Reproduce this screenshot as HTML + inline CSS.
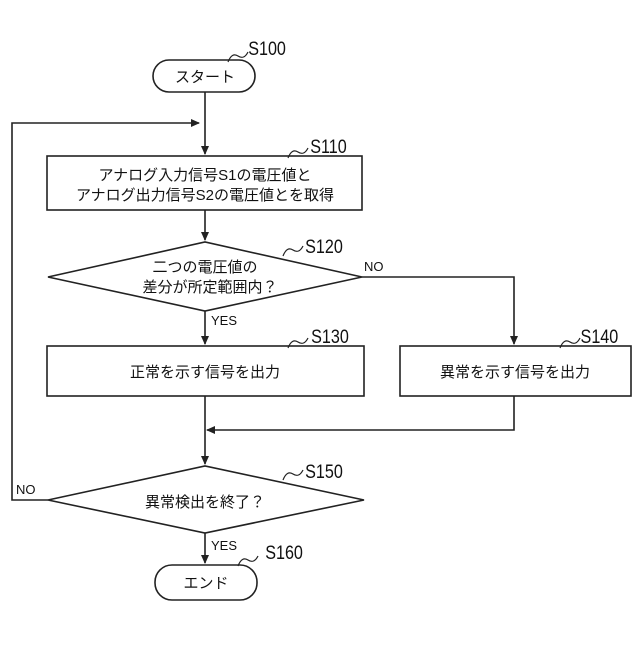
<!DOCTYPE html><html><head><meta charset="utf-8"><style>body{margin:0;background:#fff}svg text{font-family:"Liberation Sans","Noto Sans CJK JP",sans-serif;fill:#111}</style></head><body>
<svg width="640" height="640" viewBox="0 0 640 640" xmlns="http://www.w3.org/2000/svg">
<defs><marker id="a" markerWidth="10" markerHeight="10" refX="8" refY="4" orient="auto" markerUnits="userSpaceOnUse"><path d="M0,0 L9,4 L0,8 Z" fill="#222"/></marker></defs>
<g stroke="#222" stroke-width="1.6" fill="none">
<rect x="153" y="60" width="102" height="32" rx="16"/>
<rect x="47" y="156" width="315" height="54"/>
<polygon points="48,277 205,242 362,277 205,311"/>
<rect x="47" y="346" width="317" height="50"/>
<rect x="400" y="346" width="231" height="50"/>
<polygon points="48,500 205,466 364,500 205,533"/>
<rect x="155" y="565" width="102" height="35" rx="17"/>
<line x1="205" y1="92" x2="205" y2="154" marker-end="url(#a)"/>
<polyline points="48,500 12,500 12,123 199,123" marker-end="url(#a)"/>
<line x1="205" y1="210" x2="205" y2="240" marker-end="url(#a)"/>
<line x1="205" y1="311" x2="205" y2="344" marker-end="url(#a)"/>
<polyline points="362,277 514,277 514,344" marker-end="url(#a)"/>
<line x1="205" y1="396" x2="205" y2="464" marker-end="url(#a)"/>
<polyline points="514,396 514,430 207,430" marker-end="url(#a)"/>
<line x1="205" y1="533" x2="205" y2="563" marker-end="url(#a)"/>
<g stroke-width="1.2">
<path d="M228,62 q4,-10 10,-6 t10,-4"/>
<path d="M288,158 q4,-10 10,-6 t10,-4"/>
<path d="M283,256 q4,-10 10,-6 t10,-4"/>
<path d="M288,348 q4,-10 10,-6 t10,-4"/>
<path d="M560,348 q4,-10 10,-6 t10,-4"/>
<path d="M283,480 q4,-10 10,-6 t10,-4"/>
<path d="M238,566 q4,-10 10,-6 t10,-4"/>
</g></g>
<g font-size="19" transform="scale(0.85,1)">
<text x="292" y="55">S100</text>
<text x="365" y="153">S110</text>
<text x="359" y="253">S120</text>
<text x="366" y="343">S130</text>
<text x="683" y="343">S140</text>
<text x="359" y="478">S150</text>
<text x="312" y="559">S160</text>
</g>
<g font-size="15" text-anchor="middle">
<text x="205" y="82">スタート</text>
<text x="205" y="180">アナログ入力信号S1の電圧値と</text>
<text x="205" y="200">アナログ出力信号S2の電圧値とを取得</text>
<text x="205" y="272">二つの電圧値の</text>
<text x="210" y="292">差分が所定範囲内？</text>
<text x="205" y="377">正常を示す信号を出力</text>
<text x="515" y="377">異常を示す信号を出力</text>
<text x="205" y="507">異常検出を終了？</text>
<text x="206" y="588">エンド</text>
</g>
<g font-size="13">
<text x="364" y="271">NO</text>
<text x="211" y="325">YES</text>
<text x="16" y="494">NO</text>
<text x="211" y="550">YES</text>
</g>
</svg></body></html>
